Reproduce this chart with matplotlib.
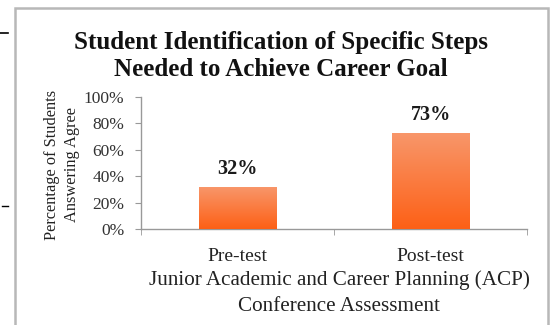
import matplotlib
matplotlib.use("Agg")
import matplotlib.pyplot as plt
import numpy as np
from matplotlib.colors import LinearSegmentedColormap

categories = ["Pre-test", "Post-test"]
values = [0.32, 0.73]
value_labels = ["32%", "73%"]
yticks = [0, 0.2, 0.4, 0.6, 0.8, 1.0]
ytick_labels = ["0%", "20%", "40%", "60%", "80%", "100%"]
title = "Student Identification of Specific Steps\nNeeded to Achieve Career Goal"
ylabel = "Percentage of Students\nAnswering Agree"
xlabel = "Junior Academic and Career Planning (ACP)\nConference Assessment"

plt.rcParams['font.family'] = ['Liberation Serif', 'DejaVu Serif']

fig = plt.figure(figsize=(5.55, 3.25), dpi=100)
W, H = 555, 325

# outer chart border
fig.add_artist(plt.Rectangle((15 / W, -0.02), 533 / W, (325 - 8) / H + 0.02,
                             transform=fig.transFigure, fill=False,
                             edgecolor="#b8b8b8", linewidth=1.8))
# small marks left of the border
fig.add_artist(plt.Line2D([0, 8 / W], [1 - 33 / H, 1 - 33 / H], transform=fig.transFigure,
                          color="black", linewidth=1.2))
fig.add_artist(plt.Line2D([2 / W, 8 / W], [1 - 206 / H, 1 - 206 / H], transform=fig.transFigure,
                          color="black", linewidth=1.0))

ax = fig.add_axes([141 / W, 1 - 229 / H, (527 - 141) / W, (229 - 97) / H])
x = np.arange(len(categories))
bars = ax.bar(x, values, width=0.4, color="#fa7a3c", zorder=2)

cmap = LinearSegmentedColormap.from_list("og", ["#fd6016", "#f8976b"])
grad = np.linspace(0, 1, 256).reshape(-1, 1)
for b in bars:
    bx, by = b.get_x(), b.get_y()
    bw, bh = b.get_width(), b.get_height()
    im = ax.imshow(grad, extent=[bx, bx + bw, by, by + bh], origin="lower",
                   aspect="auto", cmap=cmap, zorder=3)
    im.set_clip_path(b)

for xi, v, lab in zip(x, values, value_labels):
    ax.text(xi, v + 0.055, lab, ha="center", va="bottom", fontsize=14.5,
            fontweight="bold", color="#1a1a1a")

ax.set_xlim(-0.5, 1.5)
ax.set_ylim(0, 1)
ax.set_yticks(yticks)
ax.set_yticklabels(ytick_labels, fontsize=12.5, color="#333333")
ax.set_xticks(x)
ax.set_xticklabels(categories, fontsize=14, color="#222222")
ax.set_xticks([-0.5, 0.5, 1.5], minor=True)
ax.tick_params(axis="x", which="major", length=0, pad=14)
ax.tick_params(axis="x", which="minor", length=4, color="#999999", direction="out")
ax.tick_params(axis="y", length=4, color="#999999", direction="out", pad=8)
for s in ["top", "right"]:
    ax.spines[s].set_visible(False)
for s in ["left", "bottom"]:
    ax.spines[s].set_color("#999999")
    ax.spines[s].set_linewidth(1.0)

fig.text(281 / W, 1 - 56 / H, title, ha="center", va="center", fontsize=18,
         fontweight="bold", linespacing=1.25, color="#111111")
fig.text(62 / W, 1 - 165 / H, ylabel, ha="center", va="center", rotation=90,
         fontsize=11.8, linespacing=1.4, color="#222222")
fig.text(339 / W, 1 - 293 / H, xlabel, ha="center", va="center", fontsize=15.2,
         linespacing=1.45, color="#222222")

fig.savefig("out.png", dpi=100, facecolor="white")
